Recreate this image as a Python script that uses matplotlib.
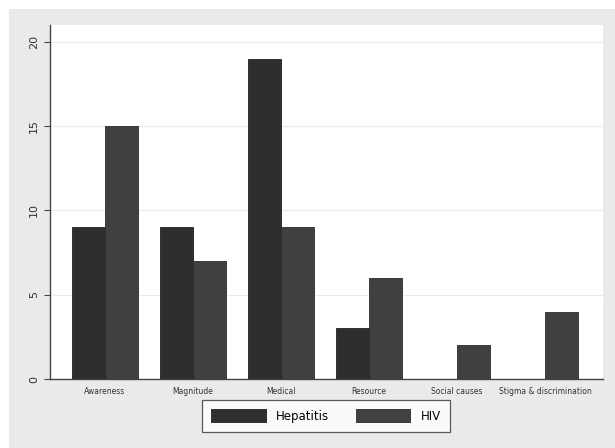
import matplotlib.pyplot as plt
import numpy as np
from matplotlib.patches import Rectangle

categories = ["Awareness", "Magnitude", "Medical", "Resource", "Social causes", "Stigma & discrimination"]
hepatitis = [9, 9, 19, 3, 0, 0]
hiv = [15, 7, 9, 6, 2, 4]

W, H = 615, 448
fig = plt.figure(figsize=(W / 100, H / 100), dpi=100)
fig.patch.set_facecolor("white")
# gray stata-like background, with a thin white margin top/left
fig.patches.append(Rectangle((9 / W, 0), 1 - 9 / W, 1 - 9 / H, transform=fig.transFigure,
                             facecolor="#eaeaea", edgecolor="none", zorder=-10))

ax = fig.add_axes([50 / W, (H - 379) / H, 553 / W, 354 / H])
ax.set_facecolor("white")

x = np.arange(len(categories))
w = 0.375
b1 = ax.bar(x - w / 2, hepatitis, w, color="#2e2e2e", edgecolor="#222222", linewidth=0.6, label="Hepatitis", zorder=3)
b2 = ax.bar(x + w / 2, hiv, w, color="#404040", edgecolor="#2a2a2a", linewidth=0.6, label="HIV", zorder=3)

ax.set_xlim(-0.625, 5.66)
ax.set_ylim(0, 21)
ax.set_yticks([0, 5, 10, 15, 20])
ax.set_yticklabels(["0", "5", "10", "15", "20"], rotation=90, va="center", fontsize=8, color="#333333")
ax.set_xticks(x)
ax.set_xticklabels(categories, fontsize=5.5, color="#333333")
ax.tick_params(axis="x", length=0, pad=6)
ax.tick_params(axis="y", length=4, width=0.8, color="#444444", pad=4)
ax.grid(axis="y", color="#ebebeb", linewidth=0.8, zorder=0)

for s in ["top", "right"]:
    ax.spines[s].set_visible(False)
ax.spines["left"].set_color("#444444")
ax.spines["left"].set_linewidth(1.0)
ax.spines["bottom"].set_color("#444444")
ax.spines["bottom"].set_linewidth(1.0)

leg = fig.legend(handles=[b1, b2], loc="center", bbox_to_anchor=(326 / W, (H - 416) / H),
                 ncol=2, fontsize=8.5, frameon=True, fancybox=False, handlelength=4.6, handleheight=1.3,
                 columnspacing=2.3, handletextpad=0.85, borderpad=0.8, edgecolor="#333333")
leg.get_frame().set_linewidth(0.9)
leg.get_frame().set_facecolor("white")

fig.savefig("out.png", dpi=100)
